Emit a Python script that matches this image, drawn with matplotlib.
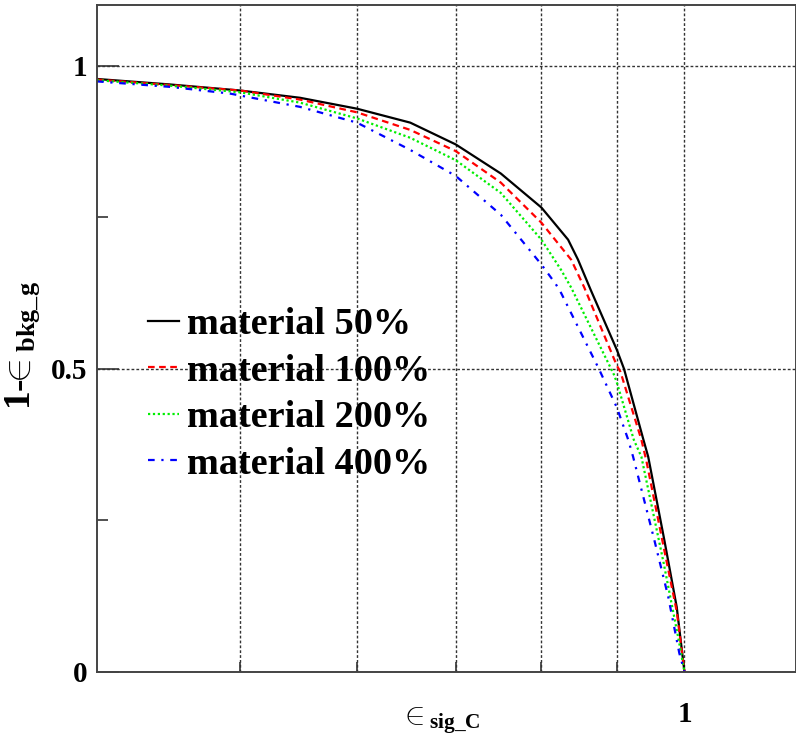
import numpy as np
import matplotlib
matplotlib.use("Agg")
import matplotlib.pyplot as plt
from matplotlib.ticker import FixedLocator, NullLocator, FixedFormatter

# データ (picture から読み取った値)
x_50 = [0.40, 0.448, 0.50, 0.549, 0.60, 0.652, 0.70, 0.751, 0.80, 0.834,
        0.847, 0.864, 0.90, 0.910, 0.938, 0.945, 0.969, 0.988, 1.0]
y_50 = [0.978, 0.969, 0.959, 0.947, 0.929, 0.906, 0.870, 0.822, 0.766, 0.713,
        0.680, 0.630, 0.531, 0.500, 0.383, 0.355, 0.218, 0.107, 0.0]

x_100 = [0.40, 0.448, 0.50, 0.549, 0.60, 0.652, 0.70, 0.751, 0.80, 0.838,
         0.855, 0.900, 0.905, 0.935, 0.942, 0.969, 0.988, 1.0]
y_100 = [0.977, 0.968, 0.959, 0.944, 0.923, 0.894, 0.859, 0.807, 0.741, 0.680,
         0.635, 0.505, 0.495, 0.383, 0.350, 0.201, 0.100, 0.0]

x_200 = [0.40, 0.448, 0.50, 0.549, 0.60, 0.652, 0.70, 0.751, 0.80, 0.825,
         0.838, 0.896, 0.900, 0.924, 0.935, 0.968, 0.991, 1.0]
y_200 = [0.976, 0.967, 0.956, 0.939, 0.913, 0.881, 0.844, 0.790, 0.713, 0.663,
         0.634, 0.490, 0.477, 0.383, 0.355, 0.180, 0.053, 0.0]

x_400 = [0.40, 0.448, 0.492, 0.549, 0.60, 0.652, 0.70, 0.751, 0.80, 0.818,
         0.825, 0.875, 0.900, 0.916, 0.923, 0.954, 0.975, 0.992, 1.0]
y_400 = [0.974, 0.965, 0.954, 0.932, 0.906, 0.861, 0.818, 0.754, 0.672, 0.640,
         0.625, 0.500, 0.436, 0.383, 0.355, 0.218, 0.124, 0.031, 0.0]

labels = ["material 50%", "material 100%", "material 200%", "material 400%"]
x_ticks = [0.5, 0.6, 0.7, 0.8, 0.9, 1.0]
x_tick_labels = ["", "", "", "", "", "1"]
y_ticks = [0, 0.5, 1]
y_tick_labels = ["0", "0.5", "1"]

# フォント (Times 相当)
plt.rcParams['font.family'] = ['Liberation Serif', 'DejaVu Serif']
plt.rcParams['font.weight'] = 'bold'
plt.rcParams['mathtext.fontset'] = 'custom'
plt.rcParams['mathtext.rm'] = 'Liberation Serif:bold'
plt.rcParams['mathtext.bf'] = 'Liberation Serif:bold'
plt.rcParams['mathtext.it'] = 'Liberation Serif:bold'
plt.rcParams['xtick.direction'] = 'in'
plt.rcParams['ytick.direction'] = 'in'

fig = plt.figure(figsize=(7.96, 7.44), dpi=100)
ax = fig.add_axes([97/796, 72/744, 699/796, 667/744])

ax.plot(x_50, y_50, color="#000000", lw=1.6, label=labels[0])
ax.plot(x_100, y_100, color="#ff0000", lw=1.6, ls=(0, (3, 2)), label=labels[1])
ax.plot(x_200, y_200, color="#00ee00", lw=1.6, ls=(0, (1, 1.2)), label=labels[2])
ax.plot(x_400, y_400, color="#0000ff", lw=1.6, ls=(0, (3, 3, 1, 3)), label=labels[3])

ax.set_xscale('log')
ax.set_xlim(0.4, 1.19)
ax.set_ylim(0, 1.1)

ax.xaxis.set_major_locator(FixedLocator(x_ticks))
ax.xaxis.set_major_formatter(FixedFormatter(x_tick_labels))
ax.xaxis.set_minor_locator(NullLocator())
ax.yaxis.set_major_locator(FixedLocator(y_ticks))
ax.yaxis.set_major_formatter(FixedFormatter(y_tick_labels))
ax.yaxis.set_minor_locator(FixedLocator([0.25, 0.75]))

ax.tick_params(axis='x', which='major', length=7, width=1.2, pad=21,
               labelsize=21, color="#333333")
ax.tick_params(axis='y', which='major', length=16, width=1.2, pad=7,
               labelsize=21, color="#333333")
ax.tick_params(axis='y', which='minor', length=8, width=1.2, color="#333333")
ax.tick_params(top=False, right=False)

# グリッド
ax.grid(True, which='major', color="#333333", lw=1.0, ls=(0, (2, 1.5)))

for s in ['left', 'bottom', 'top', 'right']:
    ax.spines[s].set_linewidth(1.4)
    ax.spines[s].set_color("#444444")

# 軸ラベル
ax.set_ylabel(r"1-$\!\!\in_{\mathbf{bkg\_g}}$", fontsize=27, fontweight='bold')
ax.yaxis.set_label_coords(-0.078, 0.49)
ax.set_xlabel(r"$\!\!\in_{\mathbf{sig\_C}}$", fontsize=22, fontweight='normal')
ax.xaxis.set_label_coords(0.495, -0.05)

# 凡例
ax.legend(loc='upper left', bbox_to_anchor=(0.073, 0.547), frameon=False,
          fontsize=27.5, handlelength=0.8, handletextpad=0.22,
          labelspacing=0.3, borderpad=0, borderaxespad=0)

plt.savefig("out.png", dpi=100)
